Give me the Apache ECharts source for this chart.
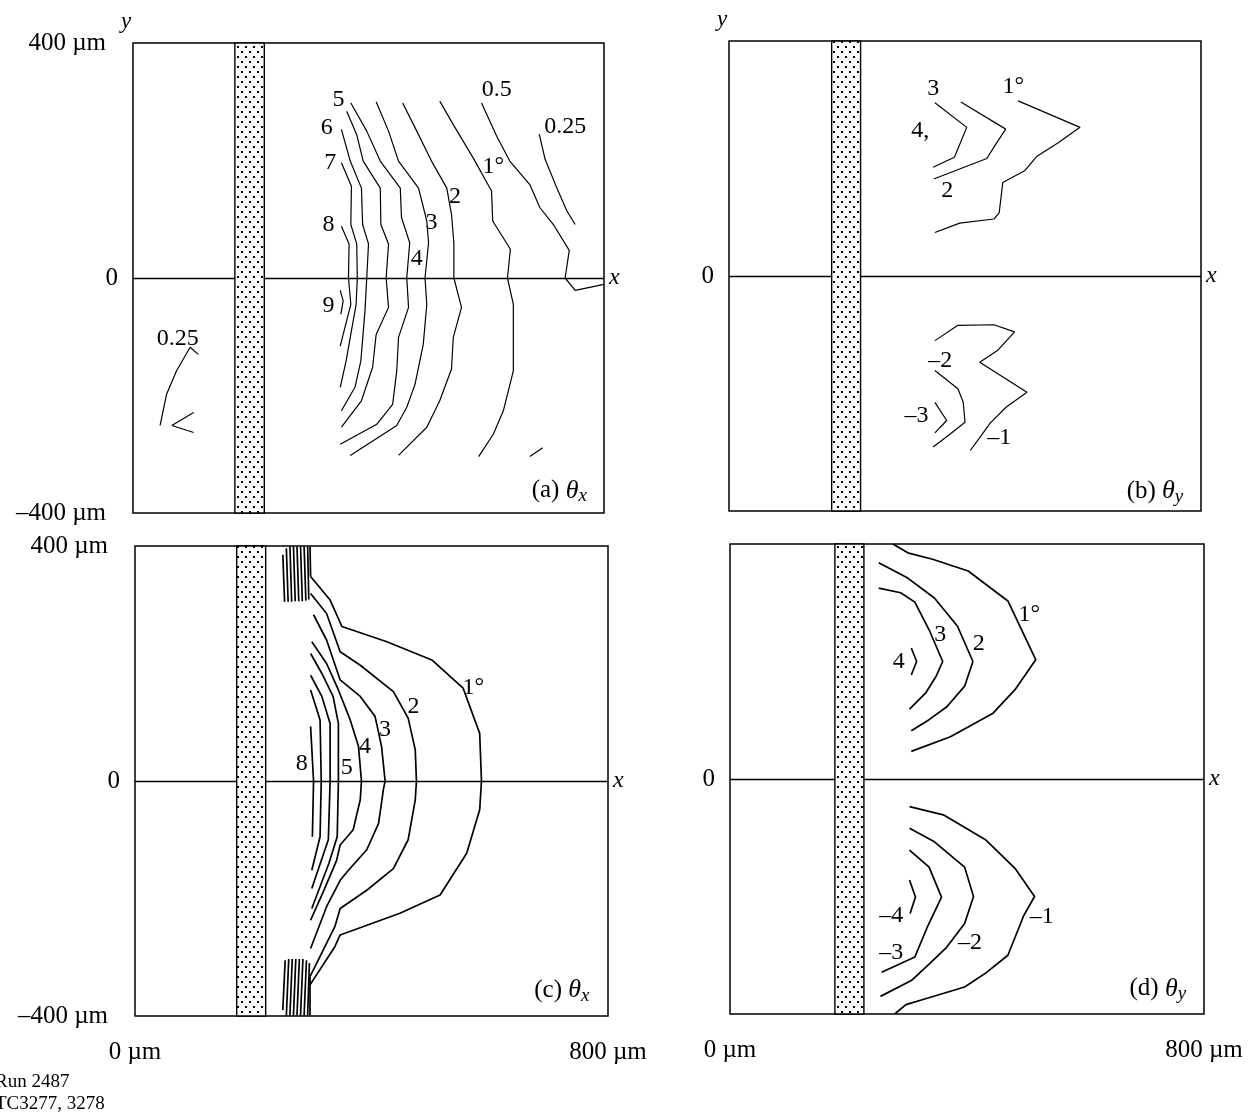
<!DOCTYPE html>
<html><head><meta charset="utf-8">
<script src="https://cdn.jsdelivr.net/npm/echarts@6/dist/echarts.min.js"></script>
<style>html,body{margin:0;padding:0;background:#fff}#c{width:1258px;height:1114px}</style>
</head><body><div id="c"></div>
<script>
const FONT = "'Liberation Serif','Times New Roman',serif";

// ---- axes / ticks ----
const xTickValues = [0, 800];
const xTickLabels = ['0 µm', '800 µm'];
const yTickValues = [-400, 0, 400];
const yTickLabels = ['–400 µm', '0', '400 µm'];

// ---- fibre (stippled bar) x-range per panel, µm ----
const fiberX = [[173, 223], [174, 223], [172, 221], [177, 226]];

// ---- contour lines, panel (a) θx ----
const linesA = [
  [[690,245],[700,202],[720,153],[737,114],[751,91]],
  [[592,298],[618,241],[640,199],[674,159],[691,120],[714,91],[741,47],[734,0],[751,-21],[800,-11]],
  [[521,301],[544,261],[578,204],[609,148],[611,97],[641,49],[636,0],[646,-45],[646,-158],[629,-226],[612,-266],[587,-304]],
  [[458,298],[482,250],[507,199],[533,153],[541,108],[545,60],[545,0],[558,-50],[544,-101],[541,-155],[521,-209],[499,-254],[451,-302]],
  [[413,300],[434,250],[451,199],[485,153],[499,97],[502,60],[496,0],[499,-45],[493,-113],[479,-181],[465,-220],[448,-251],[369,-302]],
  [[370,298],[397,250],[420,199],[454,153],[456,103],[470,60],[465,0],[468,-50],[451,-101],[448,-158],[441,-215],[414,-249],[352,-283]],
  [[363,284],[380,244],[391,199],[420,153],[421,91],[434,58],[430,0],[434,-50],[413,-96],[407,-152],[388,-209],[354,-254]],
  [[354,253],[369,199],[388,153],[390,91],[400,58],[397,0],[394,-56],[387,-141],[377,-186],[354,-226]],
  [[354,196],[371,156],[370,91],[380,58],[381,0],[379,-45],[369,-101],[362,-141],[352,-186]],
  [[354,88],[367,58],[366,0],[370,-45],[360,-84],[352,-116]],
  [[352,-21],[357,-39],[353,-62]],
  [[674,-304],[696,-289]],
  [[111,-130],[97,-118],[74,-158],[57,-198],[46,-251]],
  [[103,-229],[66,-251],[103,-263]]
];
const labelsA = [
  [349,304,'5'],[329,255,'6'],[335,196,'7'],[332,91,'8'],[332,-47,'9'],
  [482,32,'4'],[507,94,'3'],[547,139,'2'],[612,190,'1°'],[618,321,'0.5'],
  [734,258,'0.25'],[76,-104,'0.25']
];

// ---- panel (b) θy ----
const linesB = [
  [[349,295],[403,253],[382,202],[346,185]],
  [[393,296],[469,250],[452,224],[437,200],[347,165]],
  [[490,298],[595,253],[558,227],[522,204],[501,179],[464,159],[458,108],[449,97],[391,90],[349,74]],
  [[349,-110],[388,-84],[449,-83],[484,-95],[455,-127],[425,-147],[505,-198],[470,-223],[443,-250],[428,-271],[409,-297]],
  [[349,-161],[388,-192],[397,-215],[400,-249],[376,-268],[346,-291]],
  [[349,-215],[369,-246],[349,-267]]
];
const labelsB = [
  [346,318,'3'],[324,247,'4,'],[370,145,'2'],[482,323,'1°'],
  [458,-276,'–1'],[358,-144,'–2'],[318,-237,'–3']
];

// ---- panel (c) θx ----
const linesC = [
  [[297,348],[330,308],[350,263],[426,237],[502,206],[555,158],[583,81],[586,0],[583,-49],[561,-123],[516,-194],[448,-225],[347,-262],[338,-282],[296,-347]],
  [[297,319],[324,285],[347,220],[381,197],[437,152],[462,107],[474,53],[476,0],[474,-32],[462,-100],[437,-149],[392,-186],[347,-217],[338,-248],[296,-333]],
  [[302,283],[324,240],[347,172],[381,144],[406,110],[417,59],[423,0],[420,-15],[412,-72],[392,-117],[361,-152],[347,-169],[324,-214],[297,-285]],
  [[299,237],[324,200],[344,155],[364,104],[378,59],[383,0],[381,-32],[369,-83],[347,-109],[341,-135],[320,-185],[297,-237]],
  [[297,217],[316,183],[335,144],[344,98],[344,0],[342,-95],[328,-140],[299,-217]],
  [[297,180],[316,144],[330,98],[330,0],[327,-100],[299,-183]],
  [[297,155],[313,104],[315,0],[313,-95],[299,-152]],
  [[297,93],[302,0],[300,-95]]
];
const hatchC = [
  [[250,385],[253,305]],[[256,396],[259,305]],[[262,399],[265,305]],[[268,399],[271,306]],
  [[274,399],[277,306]],[[280,399],[283,306]],[[286,399],[289,307]],[[292,399],[294,309]],
  [[296,399],[297,348]],
  [[250,-390],[254,-305]],[[256,-399],[260,-303]],[[262,-399],[266,-303]],[[268,-399],[272,-303]],
  [[274,-399],[278,-303]],[[280,-399],[284,-303]],[[286,-399],[290,-305]],[[292,-399],[295,-310]],
  [[296,-399],[296,-333]]
];
const labelsC = [
  [572,158,'1°'],[471,127,'2'],[423,87,'3'],[389,59,'4'],[358,22,'5'],[282,30,'8']
];

// ---- panel (d) θy ----
const linesD = [
  [[275,400],[300,385],[342,374],[402,354],[469,303],[516,203],[481,152],[444,112],[372,72],[306,47]],
  [[251,368],[300,342],[345,308],[384,260],[410,200],[396,158],[366,123],[336,101],[306,82]],
  [[251,325],[288,317],[312,301],[336,254],[359,200],[348,175],[330,146],[303,119]],
  [[306,223],[315,200],[306,177]],
  [[303,-47],[360,-61],[432,-104],[481,-152],[514,-200],[496,-232],[469,-300],[432,-330],[396,-354],[330,-374],[297,-384],[278,-400]],
  [[303,-84],[345,-107],[396,-150],[411,-200],[396,-246],[366,-286],[336,-315],[306,-343],[254,-370]],
  [[303,-121],[336,-150],[357,-201],[333,-252],[312,-303],[256,-329]],
  [[303,-172],[313,-201],[304,-229]]
];
const labelsD = [
  [505,280,'1°'],[420,231,'2'],[355,246,'3'],[285,200,'4'],
  [526,-235,'–1'],[405,-278,'–2'],[272,-295,'–3'],[272,-232,'–4']
];

// ---- panel captions: [x, y, letter, subscript] ----
const captions = [[724,-362,'a','x'],[722,-367,'b','y'],[722,-356,'c','x'],[722,-357,'d','y']];

// ---------------------------------------------------------------
const allLines = [linesA, linesB, linesC.concat(hatchC), linesD];
const allLabels = [labelsA, labelsB, labelsC, labelsD];
const grids = [
  {left:133, top:43, width:471, height:470},
  {left:729, top:41, width:472, height:470},
  {left:135, top:546, width:473, height:470},
  {left:730, top:544, width:474, height:470}
];
const showYEnds = [true,false,true,false];
const showX = [false,false,true,true];
const showYName = [true,true,false,false];
const lineW = [1.2,1.2,1.7,1.7];

function dots(){
  const c = document.createElement('canvas'); c.width = 8; c.height = 10;
  const g = c.getContext('2d');
  g.fillStyle = '#fff'; g.fillRect(0,0,8,10);
  g.fillStyle = '#000'; g.fillRect(1,1,2,2); g.fillRect(5,6,2,2);
  return c;
}
const dotPattern = {image: dots(), repeat: 'repeat'};

const series = [];
allLines.forEach((lines, i) => {
  lines.forEach(l => series.push({
    type:'line', xAxisIndex:i, yAxisIndex:i, data:l, symbol:'none', silent:true,
    lineStyle:{color:'#000', width:lineW[i]}, z:3
  }));
  series.push({
    type:'scatter', xAxisIndex:i, yAxisIndex:i, data: allLabels[i], symbolSize:1, silent:true,
    itemStyle:{color:'rgba(0,0,0,0)', opacity:1}, z:5,
    label:{show:true, position:'inside', color:'#000', opacity:1, textBorderWidth:0,
      fontSize:24, fontFamily:FONT, formatter: p => p.data[2]},
    markLine:{silent:true, symbol:['none','none'], animation:false,
      lineStyle:{color:'#000', width:1.3, type:'solid', opacity:1},
      label:{show:true, position:'end', distance:5, formatter: p => p.dataIndex === 1 ? 'x' : '',
        color:'#000', fontSize:24, fontStyle:'italic', fontFamily:FONT},
      emphasis:{disabled:true},
      data:[[{coord:[0,0]},{coord:[fiberX[i][0],0]}],[{coord:[fiberX[i][1],0]},{coord:[800,0]}]]}
  });
  series.push({
    type:'scatter', xAxisIndex:i, yAxisIndex:i, data:[captions[i]], symbolSize:1, silent:true,
    itemStyle:{color:'rgba(0,0,0,0)', opacity:1}, z:6,
    label:{show:true, position:'inside', color:'#000', opacity:1, textBorderWidth:0,
      fontSize:25, lineHeight:30, fontFamily:FONT,
      formatter: p => '(' + p.data[2] + ') {t|θ}{s|' + p.data[3] + '}',
      rich:{
        t:{fontStyle:'italic', fontSize:26, lineHeight:30, fontFamily:FONT, color:'#000'},
        s:{fontStyle:'italic', fontSize:19, lineHeight:16, verticalAlign:'bottom', fontFamily:FONT, color:'#000'}
      }},
    markArea:{silent:true, animation:false,
      itemStyle:{color:dotPattern, borderColor:'#000', borderWidth:1.4, opacity:1},
      label:{show:false},
      data:[[{coord:[fiberX[i][0],-400]},{coord:[fiberX[i][1],400]}]]}
  });
});

const option = {
  animation:false,
  backgroundColor:'#fff',
  grid: grids.map(g => Object.assign({show:true, borderColor:'#000', borderWidth:1.5, backgroundColor:'transparent'}, g)),
  xAxis: grids.map((g,i) => ({
    gridIndex:i, type:'value', min:0, max:800, interval:800,
    axisLine:{show:false}, axisTick:{show:false}, splitLine:{show:false},
    axisLabel:{show:showX[i], margin:24, fontSize:25, fontFamily:FONT, color:'#000',
      formatter: v => { const k = xTickValues.indexOf(v); return k >= 0 ? xTickLabels[k] : ''; }}
  })),
  yAxis: grids.map((g,i) => ({
    gridIndex:i, type:'value', min:-400, max:400, interval:400,
    name: showYName[i] ? 'y' : '', nameLocation:'end', nameGap:10,
    nameTextStyle:{fontStyle:'italic', fontSize:23, fontFamily:FONT, color:'#000', padding:[0,14,0,0]},
    axisLine:{show:false}, axisTick:{show:false}, splitLine:{show:false},
    axisLabel:{margin:15, fontSize:25, fontFamily:FONT, color:'#000',
      formatter: v => {
        const k = yTickValues.indexOf(v); if (k < 0) return '';
        if (v === 0) return yTickLabels[k];
        return showYEnds[i] ? '{p|' + yTickLabels[k] + '}' : '';
      },
      rich:{p:{padding:[0,12,0,0], fontSize:25, fontFamily:FONT, color:'#000'}}}
  })),
  series: series,
  graphic:[{type:'text', left:-5, top:1071, silent:true,
    style:{text:'Run 2487\nTC3277, 3278', font:"19px 'Liberation Serif', serif", fill:'#000', lineHeight:22}}]
};
const chart = echarts.init(document.getElementById('c'), null, {renderer:'canvas'});
chart.setOption(option);
</script></body></html>
